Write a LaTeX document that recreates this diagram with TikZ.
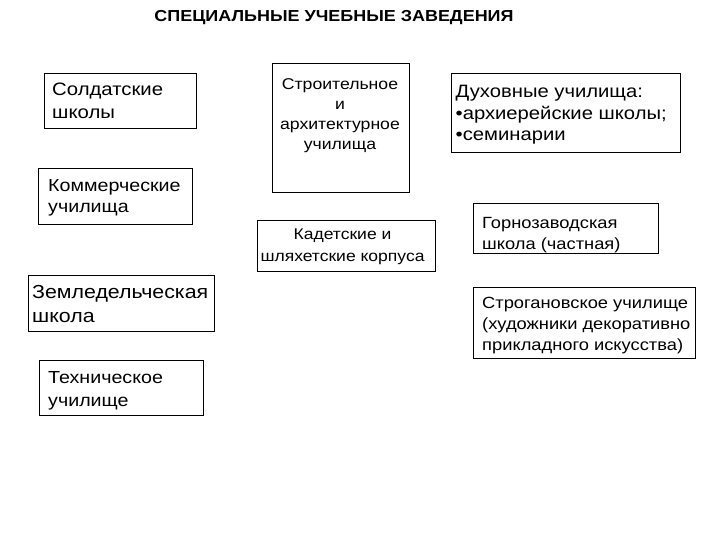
\documentclass[tikz,border=0pt]{standalone}
\usepackage{fontspec}
\setmainfont{Liberation Sans}[FakeStretch=1.13]
\begin{document}
\begin{tikzpicture}[x=1pt,y=-1pt,
  box/.style={draw, line width=0.9pt, inner sep=0pt, anchor=north west},
  txt/.style={inner sep=0pt, anchor=north west, align=left},
  ctxt/.style={inner sep=0pt, anchor=north, align=center}]
\useasboundingbox (0,0) rectangle (720,540);
\node[inner sep=0pt, anchor=north, font=\bfseries\fontsize{15.9}{18}\selectfont] (title) at (334,10) {СПЕЦИАЛЬНЫЕ УЧЕБНЫЕ ЗАВЕДЕНИЯ};
% boxes
\node[box, minimum width=152pt, minimum height=55pt] (b1) at (44,73) {};
\node[box, minimum width=137pt, minimum height=129pt] (b2) at (272,63) {};
\node[box, minimum width=229pt, minimum height=79pt] (b3) at (451,73) {};
\node[box, minimum width=154pt, minimum height=56pt] (b4) at (38,168) {};
\node[box, minimum width=178pt, minimum height=51pt] (b5) at (257,220) {};
\node[box, minimum width=185pt, minimum height=50pt] (b6) at (473,203) {};
\node[box, minimum width=222pt, minimum height=71pt] (b7) at (473,287) {};
\node[box, minimum width=186pt, minimum height=56pt] (b8) at (28,275) {};
\node[box, minimum width=164pt, minimum height=55pt] (b9) at (39,360) {};
% texts
\node[txt, font=\fontsize{18}{22.5}\selectfont] (t1) at (52,83) {Солдатские\\школы};
\node[ctxt, font=\fontsize{15.6}{20.3}\selectfont] (t2) at (340,78) {Строительное\\и\\архитектурное\\училища};
\node[txt, font=\fontsize{17.9}{21.5}\selectfont] (t3) at (455.5,85) {Духовные училища:\\•архиерейские школы;\\•семинарии};
\node[txt, font=\fontsize{17.4}{21}\selectfont] (t4) at (48,179) {Коммерческие\\училища};
\node[ctxt, font=\fontsize{15.5}{22}\selectfont] (t5) at (342.5,229) {Кадетские и\\шляхетские корпуса};
\node[txt, font=\fontsize{16.2}{21.5}\selectfont] (t6) at (482,217) {Горнозаводская\\школа (частная)};
\node[txt, font=\fontsize{16.2}{21}\selectfont] (t7) at (482,297) {Строгановское училище\\(художники декоративно\\прикладного искусства)};
\node[txt, font=\fontsize{18.9}{24}\selectfont] (t8) at (32,285) {Земледельческая\\школа};
\node[txt, font=\fontsize{17.4}{23}\selectfont] (t9) at (48,371) {Техническое\\училище};
\end{tikzpicture}
\end{document}
